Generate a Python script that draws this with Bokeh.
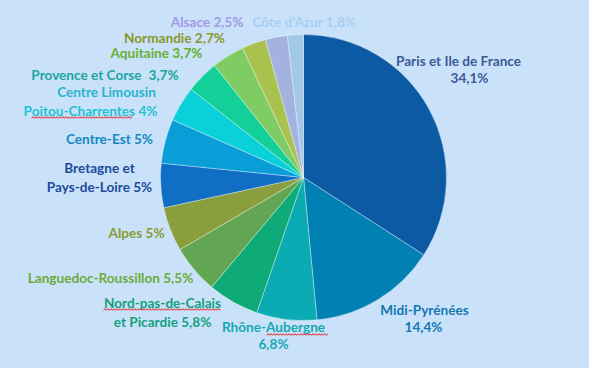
import numpy as np
from bokeh.plotting import figure
from bokeh.models import ColumnDataSource
from bokeh.core.properties import value
from bokeh.embed import file_html
from bokeh.resources import INLINE

# ---------------- data ----------------
regions = ["Paris et Ile de France", "Midi-Pyrénées", "Rhône-Aubergne",
           "Nord-pas-de-Calais et Picardie", "Languedoc-Roussillon", "Alpes",
           "Bretagne et Pays-de-Loire", "Centre-Est", "Poitou-Charrentes / Centre Limousin",
           "Provence et Corse", "Aquitaine", "Normandie", "Alsace", "Côte d'Azur"]
shares = [34.1, 14.4, 6.8, 5.8, 5.5, 5.0, 5.0, 5.0, 4.0, 3.7, 3.7, 2.7, 2.5, 1.8]
slice_colors = ["#0B5AA3", "#0080B3", "#0AABB2", "#0EAA78", "#62A653", "#8A9E3E",
                "#106FC5", "#0A9DD8", "#0AD0DA", "#12D098", "#7FCB64", "#A8C24D",
                "#A3B2DE", "#A2C8E8"]

# label lines (text, colour) and their placement in page pixels
label_text = ["Paris et Ile de France", "34,1%", "Midi-Pyrénées", "14,4%",
              "Rhône-Aubergne", "6,8%", "Nord-pas-de-Calais", "et Picardie 5,8%",
              "Languedoc-Roussillon 5,5%", "Alpes 5%", "Bretagne et", "Pays-de-Loire 5%",
              "Centre-Est 5%", "Poitou-Charrentes 4%", "Centre Limousin",
              "Provence et Corse", "3,7%", "Aquitaine 3,7%", "Normandie 2,7%",
              "Alsace 2,5%", "Côte d’Azur 1,8%"]
label_color = ["#3C5A94", "#3C5A94", "#1478B0", "#1478B0", "#18A8B4", "#18A8B4",
               "#14A07E", "#14A07E", "#6EAA3C", "#8C9A30", "#1E4A9A", "#1E4A9A",
               "#1488C0", "#1EC2D2", "#2AB4CC", "#20A4A0", "#20A4A0", "#6AAE32",
               "#8A9828", "#A29AE6", "#A8CEF2"]
label_px = [458, 469, 424, 423, 273, 273, 162, 162, 110, 136, 99, 99, 109, 90, 106,
            141, 148, 156, 174, 243, 252]
label_py = [60, 77, 309, 326, 326, 343, 302, 321, 277, 232, 167, 186, 138, 110, 91,
            74, 74, 52, 37, 21, 21]
label_align = ["center"] * 15 + ["right", "left", "center", "center", "right", "left"]

# spell-check squiggles (x from, x to, y) in page pixels
squig = [(31, 132, 117), (103, 221, 309), (266, 328, 334)]

H = 368
W_FIG, H_FIG = 573, 352
BG = "#C9E2FA"
CX, CY, R = 303, 177, 143

p = figure(width=W_FIG, height=H_FIG, x_range=(0, W_FIG), y_range=(H - H_FIG, H),
           output_backend="svg", toolbar_location=None, min_border=0)
p.axis.visible = False
p.grid.visible = False
p.outline_line_color = None
p.background_fill_color = BG
p.border_fill_color = BG

frac = np.array(shares) / np.sum(shares)
cum = np.cumsum(frac)
before = cum - frac
src = ColumnDataSource(dict(
    start=np.pi / 2 - 2 * np.pi * cum,
    end=np.pi / 2 - 2 * np.pi * before,
    color=slice_colors, name=regions))
p.wedge(x=CX, y=H - CY, radius=R, start_angle="start", end_angle="end",
        direction="anticlock", fill_color="color", line_color="white",
        line_alpha=0.45, line_width=0.8, source=src)

lsrc = ColumnDataSource(dict(x=label_px, y=[H - v for v in label_py],
                             text=label_text, color=label_color, align=label_align))
p.text(x="x", y="y", text="text", text_color="color", source=lsrc,
       text_align="align", text_baseline="middle",
       text_font=value("Lato"), text_font_style="bold", text_font_size="13.6px")

xs, ys = [], []
for x0, x1, yy in squig:
    xx = np.arange(x0, x1 + 0.1, 1.5)
    xs.append(list(xx))
    ys.append([H - yy + (0.8 if i % 2 else -0.8) for i in range(len(xx))])
p.multi_line(xs, ys, line_color="#E02020", line_width=1)

html = file_html(p, INLINE)
html = html.replace("<head>", "<head><style>body{background:%s}</style>" % BG, 1)
open("out.html", "w").write(html)
